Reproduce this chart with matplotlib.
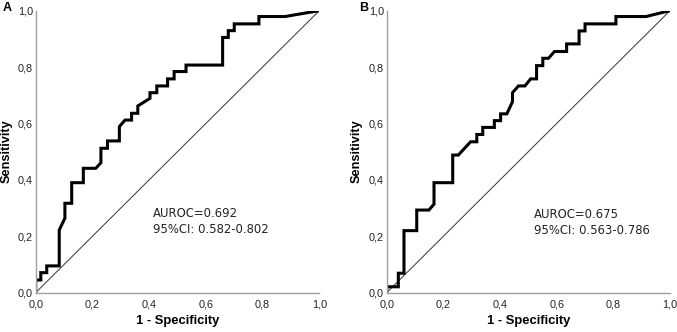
import matplotlib.pyplot as plt

plt.rcParams['font.family'] = ['Liberation Sans', 'DejaVu Sans']

# ROC curve A (1 - specificity, sensitivity)
fpr_a = [0.0, 0.0, 0.018, 0.018, 0.039, 0.039, 0.083, 0.083, 0.103, 0.103,
         0.127, 0.127, 0.168, 0.168, 0.212, 0.230, 0.230, 0.253, 0.253, 0.295,
         0.295, 0.315, 0.338, 0.338, 0.360, 0.360, 0.403, 0.403, 0.427, 0.427,
         0.465, 0.465, 0.488, 0.488, 0.530, 0.530, 0.659, 0.659, 0.679, 0.679,
         0.700, 0.700, 0.787, 0.787, 0.879, 1.0]
tpr_a = [0.0, 0.045, 0.045, 0.071, 0.071, 0.095, 0.095, 0.222, 0.264, 0.317,
         0.317, 0.390, 0.390, 0.441, 0.441, 0.461, 0.512, 0.512, 0.538, 0.538,
         0.589, 0.612, 0.612, 0.636, 0.636, 0.662, 0.689, 0.709, 0.709, 0.733,
         0.733, 0.758, 0.758, 0.784, 0.784, 0.807, 0.807, 0.905, 0.905, 0.929,
         0.929, 0.953, 0.953, 0.979, 0.979, 1.0]

# ROC curve B
fpr_b = [0.0, 0.0, 0.041, 0.041, 0.061, 0.061, 0.106, 0.106, 0.149, 0.167,
         0.167, 0.233, 0.233, 0.253, 0.296, 0.318, 0.318, 0.339, 0.339, 0.380,
         0.380, 0.402, 0.402, 0.424, 0.444, 0.444, 0.465, 0.488, 0.508, 0.529,
         0.529, 0.551, 0.551, 0.571, 0.592, 0.635, 0.635, 0.679, 0.679, 0.700,
         0.700, 0.809, 0.809, 0.915, 1.0]
tpr_b = [0.0, 0.021, 0.021, 0.069, 0.069, 0.220, 0.220, 0.293, 0.293, 0.314,
         0.390, 0.390, 0.488, 0.488, 0.535, 0.535, 0.561, 0.561, 0.586, 0.586,
         0.610, 0.610, 0.634, 0.634, 0.677, 0.709, 0.733, 0.733, 0.758, 0.758,
         0.805, 0.805, 0.831, 0.831, 0.855, 0.855, 0.882, 0.882, 0.928, 0.928,
         0.953, 0.953, 0.979, 0.979, 1.0]

panels = ["A", "B"]
auroc = ["AUROC=0.692\n95%CI: 0.582-0.802", "AUROC=0.675\n95%CI: 0.563-0.786"]
ticks = [0.0, 0.2, 0.4, 0.6, 0.8, 1.0]
tick_labels = ["0,0", "0,2", "0,4", "0,6", "0,8", "1,0"]

fig = plt.figure(figsize=(6.77, 3.32), dpi=100)
ax_a = fig.add_axes([0.0527, 0.1184, 0.419, 0.8496])
ax_b = fig.add_axes([0.5712, 0.1184, 0.4185, 0.8496])

curves = [(fpr_a, tpr_a), (fpr_b, tpr_b)]
text_pos = [(0.412, 0.21), (0.52, 0.207)]
panel_x = [0.004, 0.530]
ylabel_x = [0.010, 0.527]

for i, ax in enumerate([ax_a, ax_b]):
    x, y = curves[i]
    ax.plot([0, 1], [0, 1], color="#333333", lw=0.7)
    ax.plot(x, y, color="black", lw=2.2, solid_joinstyle="miter")
    ax.set_xlim(0, 1)
    ax.set_ylim(0, 1)
    ax.set_xticks(ticks)
    ax.set_yticks(ticks)
    ax.set_xticklabels(tick_labels)
    ax.set_yticklabels(tick_labels)
    ax.tick_params(length=0, labelsize=7.8, colors="#222222")
    ax.tick_params(axis="x", pad=5)
    ax.tick_params(axis="y", pad=2)
    for s in ["top", "right"]:
        ax.spines[s].set_visible(False)
    for s in ["left", "bottom"]:
        ax.spines[s].set_color("#a0a0a0")
        ax.spines[s].set_linewidth(1.0)
    ax.set_xlabel("1 - Specificity", fontsize=9.4, fontweight="bold", labelpad=4)
    ax.text(text_pos[i][0], text_pos[i][1], auroc[i], fontsize=8.4,
            family="DejaVu Sans", color="#222222", va="baseline",
            linespacing=1.3)
    fig.text(ylabel_x[i], 0.545, "Sensitivity", rotation=90, fontsize=9.2,
             fontweight="bold", ha="center", va="center")
    fig.text(panel_x[i], 0.995, panels[i], fontsize=9, fontweight="bold",
             ha="left", va="top")

fig.savefig("out.png", dpi=100)
